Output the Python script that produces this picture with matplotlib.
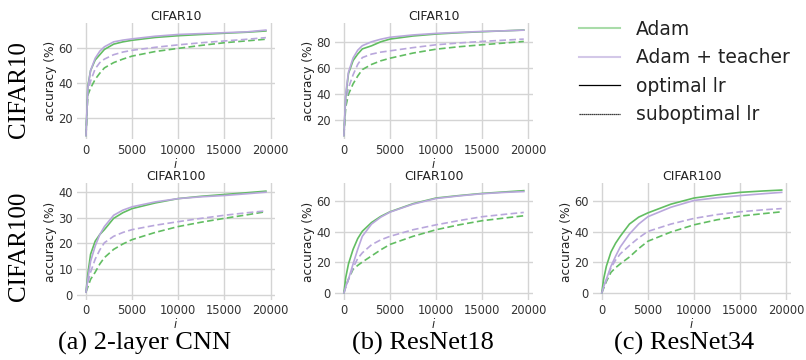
import matplotlib
matplotlib.use('Agg')
import matplotlib.pyplot as plt
from matplotlib.lines import Line2D

GREEN = '#62bd62'
PURPLE = '#b9a7dc'

ITERS = [0, 200, 500, 1000, 1500, 2000, 3000, 4000, 5000, 7500, 10000, 12500, 15000, 17500, 19500]

# (a) 2-layer CNN, CIFAR10
cnn10_adam_opt = [10, 38, 47, 53, 56, 59, 62, 63.3, 64.2, 65.8, 66.8, 67.5, 68.2, 68.8, 69.5]
cnn10_teach_opt = [10, 37, 47, 54, 58, 60.5, 63.3, 64.3, 65, 66.5, 67.5, 68, 68.5, 69, 70]
cnn10_adam_sub = [10, 33, 37, 42, 45.5, 48.5, 51.5, 53.5, 55.2, 57.8, 59.6, 61.3, 62.8, 63.9, 64.8]
cnn10_teach_sub = [10, 35, 41, 48, 51.5, 53.5, 56, 57.5, 58.5, 60.2, 61.6, 62.8, 63.8, 64.8, 65.7]

# (b) ResNet18, CIFAR10
r18_10_adam_opt = [8, 38, 56, 66, 71, 75, 77.4, 80.5, 82.6, 85, 86.5, 87.5, 88.3, 89, 89.6]
r18_10_teach_opt = [8, 40, 57, 68, 74, 77.5, 80.5, 82.5, 84, 85.8, 87, 87.8, 88.5, 89, 89.5]
r18_10_adam_sub = [8, 30, 40, 48, 54, 59, 63, 65.8, 67.8, 71.8, 74.8, 76.7, 78.2, 79.6, 80.8]
r18_10_teach_sub = [8, 33, 45, 55, 63, 68.3, 71, 72.5, 73.5, 76, 78.2, 79.6, 80.8, 81.8, 82.6]

# (a) 2-layer CNN, CIFAR100
cnn100_adam_opt = [1, 8, 15.8, 20.9, 23.5, 25.4, 29.8, 32, 33.6, 35.8, 37.5, 38.4, 39.1, 39.8, 40.4]
cnn100_teach_opt = [1, 6, 13, 19, 23.5, 26.6, 31, 33, 34.3, 36.2, 37.5, 38.2, 38.7, 39.4, 40]
cnn100_adam_sub = [1, 3, 6, 8.8, 12, 14.5, 17.7, 19.8, 21.5, 24.3, 26.6, 28.3, 29.8, 31.2, 32.4]
cnn100_teach_sub = [1, 4.5, 8.8, 13.9, 17.5, 20.3, 22.8, 24.3, 25.4, 27.1, 28.5, 29.8, 31, 32, 32.7]

# (b) ResNet18, CIFAR100
r18_100_adam_opt = [0, 10, 19, 28.5, 35.5, 40.3, 46, 50, 53, 58.3, 62, 63.6, 65, 66, 66.8]
r18_100_teach_opt = [0, 4, 9, 19, 28.5, 37, 45, 49.5, 52.8, 58, 61.7, 63.4, 64.8, 65.7, 66.2]
r18_100_adam_sub = [0, 4, 9, 15.5, 18, 20.2, 24.2, 28.2, 31.7, 37, 41.3, 44.5, 47.2, 49, 50.4]
r18_100_teach_sub = [0, 4, 9, 16.5, 22.5, 26.2, 31.5, 34.7, 37, 41.3, 44.5, 47.3, 49.8, 51.4, 52.6]

# (c) ResNet34, CIFAR100
r34_100_adam_opt = [0, 9, 17.5, 26.8, 32.5, 37, 45, 49.5, 52.3, 58, 62, 64, 65.7, 66.6, 67.2]
r34_100_teach_opt = [0, 4, 9, 17.5, 24, 30, 38.5, 45, 49.8, 56, 60.4, 62.2, 63.6, 64.8, 65.7]
r34_100_adam_sub = [0, 3, 7.5, 13.5, 16.5, 19, 23.5, 29, 33.8, 39.8, 44.5, 47.8, 50.2, 51.8, 53]
r34_100_teach_sub = [0, 4, 8.5, 16.5, 21.5, 25.5, 31, 36, 40.2, 45, 48.7, 51.2, 53, 54.3, 55.1]

PANELS = [
    # (row, col, title, series, ylim, yticks)
    (0, 0, 'CIFAR10', (cnn10_adam_opt, cnn10_teach_opt, cnn10_adam_sub, cnn10_teach_sub), (7.8, 74), [20, 40, 60]),
    (0, 1, 'CIFAR10', (r18_10_adam_opt, r18_10_teach_opt, r18_10_adam_sub, r18_10_teach_sub), (5, 95), [20, 40, 60, 80]),
    (1, 0, 'CIFAR100', (cnn100_adam_opt, cnn100_teach_opt, cnn100_adam_sub, cnn100_teach_sub), (-2, 43.4), [0, 10, 20, 30, 40]),
    (1, 1, 'CIFAR100', (r18_100_adam_opt, r18_100_teach_opt, r18_100_adam_sub, r18_100_teach_sub), (-4.5, 71.5), [0, 20, 40, 60]),
    (1, 2, 'CIFAR100', (r34_100_adam_opt, r34_100_teach_opt, r34_100_adam_sub, r34_100_teach_sub), (-4.5, 71.5), [0, 20, 40, 60]),
]

SERIF = 'Liberation Serif'

fig, axes = plt.subplots(2, 3, figsize=(8.06, 3.6), dpi=100)
fig.subplots_adjust(left=0.0955, right=0.981, top=0.936, bottom=0.167, wspace=0.303, hspace=0.378)

for row, col, title, series, ylim, yticks in PANELS:
    ax = axes[row][col]
    adam_opt, teach_opt, adam_sub, teach_sub = series
    ax.plot(ITERS, adam_sub, color=GREEN, lw=1.2, ls='--', dashes=(4, 2))
    ax.plot(ITERS, teach_sub, color=PURPLE, lw=1.2, ls='--', dashes=(4, 2))
    ax.plot(ITERS, adam_opt, color=GREEN, lw=1.2)
    ax.plot(ITERS, teach_opt, color=PURPLE, lw=1.2)

    ax.set_xlim(-975, 20475)
    ax.set_ylim(*ylim)
    ax.set_xticks([0, 5000, 10000, 15000, 20000])
    ax.set_yticks(yticks)
    ax.grid(True, color='#d4d4d4', lw=1.0)
    ax.set_axisbelow(True)
    for s in ax.spines.values():
        s.set_visible(False)
    ax.tick_params(length=0, labelsize=8.3, colors='#333333', pad=3)
    ax.set_title(title, fontsize=9, color='#222222', pad=2)
    ax.set_ylabel('accuracy (%)', fontsize=8.8, color='#222222', labelpad=1)
    ax.set_xlabel('$i$', fontsize=8.3, color='#222222', labelpad=0)

# top-right panel holds the legend only
axes[0][2].axis('off')
handles = [
    Line2D([], [], color='#a9dca9', lw=1.5),
    Line2D([], [], color='#d3c8e8', lw=1.5),
    Line2D([], [], color='black', lw=0.9),
    Line2D([], [], color='black', lw=0.9, ls=(0, (1, 0.6))),
]
labels = ['Adam', 'Adam + teacher', 'optimal lr', 'suboptimal lr']
fig.legend(handles, labels, loc='upper left', bbox_to_anchor=(579 / 806, 1 - 20 / 360),
           frameon=False, fontsize=13.5, handlelength=2.2, handletextpad=0.85,
           labelspacing=0.5, borderpad=0, borderaxespad=0, labelcolor='#222222')

# row labels and subfigure captions
fig.text(19 / 806, 1 - 90 / 360, 'CIFAR10', rotation=90, ha='center', va='center',
         family=SERIF, fontsize=18)
fig.text(19 / 806, 1 - 246 / 360, 'CIFAR100', rotation=90, ha='center', va='center',
         family=SERIF, fontsize=18)
for x, cap in [(145, '(a) 2-layer CNN'), (423, '(b) ResNet18'), (684, '(c) ResNet34')]:
    fig.text(x / 806, 1 - 343 / 360, cap, ha='center', va='center', family=SERIF, fontsize=19)

fig.savefig('out.png', dpi=100)
